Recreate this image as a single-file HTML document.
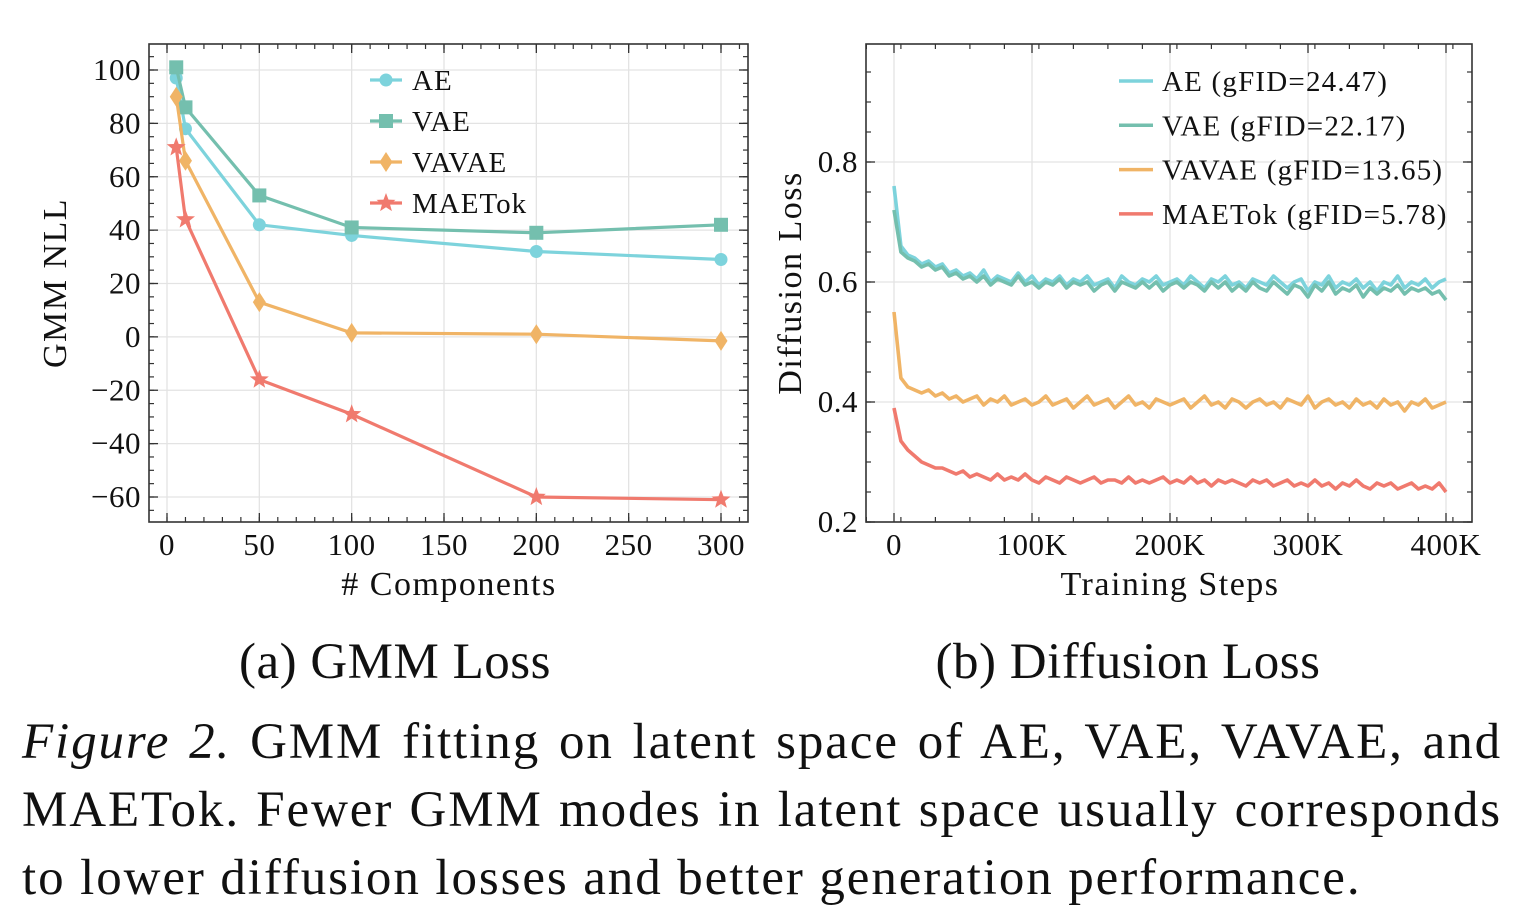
<!DOCTYPE html>
<html><head><meta charset="utf-8">
<style>
body{margin:0;background:#fff;width:1518px;height:918px;overflow:hidden;font-family:"Liberation Serif",serif;}
#fig{position:absolute;left:0;top:0;}
.cap{position:absolute;left:22px;width:1480px;font-size:51px;line-height:68px;color:#111;letter-spacing:1.9px;}
.cap div{text-align:justify;text-align-last:justify;white-space:nowrap;}
.cap div.last{text-align-last:left;}
</style></head>
<body>
<svg id="fig" width="1518" height="710"></svg>
<div class="cap" style="top:708px">
<div><i>Figure 2.</i> GMM fitting on latent space of AE, VAE, VAVAE, and</div>
<div>MAETok. Fewer GMM modes in latent space usually corresponds</div>
<div class="last">to lower diffusion losses and better generation performance.</div>
</div>
<script>
// ---- chart (a) data ----
const compCats = [5, 10, 50, 100, 200, 300];
const gmmAE = [97, 78, 42, 38, 32, 29];
const gmmVAE = [101, 86, 53, 41, 39, 42];
const gmmVAVAE = [90, 66, 13, 1.5, 1, -1.5];
const gmmMAETok = [71, 44, -16, -29, -60, -61];
const gmmXTicks = [0, 50, 100, 150, 200, 250, 300];
const gmmYTicks = [100, 80, 60, 40, 20, 0, -20, -40, -60];
// ---- chart (b) data (step in K, every 5K) ----
const diffSteps = [0,5,10,15,20,25,30,35,40,45,50,55,60,65,70,75,80,85,90,95,100,105,110,115,120,125,130,135,140,145,150,155,160,165,170,175,180,185,190,195,200,205,210,215,220,225,230,235,240,245,250,255,260,265,270,275,280,285,290,295,300,305,310,315,320,325,330,335,340,345,350,355,360,365,370,375,380,385,390,395,400];
const diffAE = [0.76,0.66,0.645,0.64,0.63,0.635,0.625,0.63,0.615,0.62,0.61,0.615,0.605,0.62,0.60,0.61,0.605,0.60,0.615,0.60,0.61,0.595,0.605,0.60,0.61,0.595,0.605,0.60,0.61,0.595,0.60,0.605,0.59,0.61,0.60,0.595,0.605,0.60,0.61,0.595,0.60,0.605,0.595,0.61,0.60,0.59,0.605,0.60,0.61,0.595,0.60,0.59,0.605,0.60,0.595,0.61,0.60,0.59,0.60,0.605,0.585,0.60,0.595,0.61,0.59,0.60,0.595,0.605,0.59,0.60,0.585,0.60,0.595,0.61,0.59,0.60,0.595,0.605,0.59,0.60,0.605];
const diffVAE = [0.72,0.65,0.64,0.635,0.625,0.63,0.62,0.625,0.61,0.615,0.605,0.61,0.60,0.61,0.595,0.605,0.60,0.595,0.61,0.595,0.60,0.59,0.60,0.595,0.605,0.59,0.60,0.595,0.60,0.585,0.595,0.60,0.585,0.60,0.595,0.59,0.60,0.59,0.60,0.585,0.595,0.60,0.59,0.60,0.595,0.585,0.60,0.59,0.60,0.585,0.595,0.585,0.60,0.59,0.585,0.60,0.59,0.58,0.595,0.59,0.575,0.595,0.585,0.60,0.58,0.59,0.585,0.595,0.575,0.59,0.58,0.59,0.585,0.595,0.58,0.59,0.585,0.59,0.58,0.585,0.57];
const diffVAVAE = [0.55,0.44,0.425,0.42,0.415,0.42,0.41,0.415,0.405,0.41,0.40,0.405,0.41,0.395,0.405,0.40,0.41,0.395,0.40,0.405,0.395,0.40,0.41,0.395,0.40,0.405,0.39,0.40,0.41,0.395,0.40,0.405,0.39,0.40,0.41,0.395,0.40,0.39,0.405,0.40,0.395,0.40,0.405,0.39,0.40,0.41,0.395,0.40,0.39,0.405,0.40,0.39,0.40,0.405,0.395,0.40,0.39,0.405,0.40,0.395,0.41,0.39,0.40,0.405,0.395,0.40,0.39,0.405,0.395,0.40,0.39,0.405,0.395,0.40,0.385,0.40,0.395,0.405,0.39,0.395,0.40];
const diffMAETok = [0.39,0.335,0.32,0.31,0.30,0.295,0.29,0.29,0.285,0.28,0.285,0.275,0.28,0.275,0.27,0.28,0.27,0.275,0.27,0.28,0.27,0.265,0.275,0.27,0.265,0.275,0.27,0.265,0.27,0.275,0.265,0.27,0.27,0.265,0.275,0.265,0.27,0.265,0.27,0.275,0.265,0.27,0.265,0.275,0.265,0.27,0.26,0.27,0.265,0.27,0.265,0.26,0.27,0.265,0.27,0.26,0.265,0.27,0.26,0.265,0.26,0.27,0.26,0.265,0.255,0.265,0.26,0.27,0.26,0.255,0.265,0.26,0.265,0.255,0.26,0.265,0.255,0.26,0.255,0.265,0.25];
const diffXTicks = [0, 100, 200, 300, 400];
const diffXLabels = ["0", "100K", "200K", "300K", "400K"];
const diffYTicks = [0.2, 0.4, 0.6, 0.8];

const C = {ae:'#7dd3dc', vae:'#74bfae', vavae:'#f0b466', mae:'#f07a6e'};
const svg = document.getElementById('fig');
const NS = 'http://www.w3.org/2000/svg';
function mk(tag, attrs, parent){const e=document.createElementNS(NS,tag);for(const k in attrs)e.setAttribute(k,attrs[k]);(parent||svg).appendChild(e);return e;}

function axes(g, L, T, R, B, xs, ys, xMinor, yMinor, xTicks, xLabels, yTicks, yLabels){
  xTicks.forEach(v=>{mk('line',{x1:xs(v),x2:xs(v),y1:T,y2:B,stroke:'#e3e3e3','stroke-width':1.3},g);});
  yTicks.forEach(v=>{mk('line',{x1:L,x2:R,y1:ys(v),y2:ys(v),stroke:'#e3e3e3','stroke-width':1.3},g);});
  xMinor.forEach(v=>{const x=xs(v);if(x<L||x>R)return;mk('line',{x1:x,x2:x,y1:B,y2:B-5,stroke:'#333','stroke-width':1.2},g);mk('line',{x1:x,x2:x,y1:T,y2:T+5,stroke:'#333','stroke-width':1.2},g);});
  yMinor.forEach(v=>{const y=ys(v);if(y<T||y>B)return;mk('line',{x1:L,x2:L+5,y1:y,y2:y,stroke:'#333','stroke-width':1.2},g);mk('line',{x1:R,x2:R-5,y1:y,y2:y,stroke:'#333','stroke-width':1.2},g);});
  xTicks.forEach((v,i)=>{const x=xs(v);mk('line',{x1:x,x2:x,y1:B,y2:B-9,stroke:'#333','stroke-width':1.3},g);mk('line',{x1:x,x2:x,y1:T,y2:T+9,stroke:'#333','stroke-width':1.3},g);
    const t=mk('text',{x:x,y:B+33,'text-anchor':'middle','font-size':31,'letter-spacing':0.5,fill:'#111'},g);t.textContent=xLabels[i];
    
    });
  yTicks.forEach((v,i)=>{const y=ys(v);mk('line',{x1:L,x2:L+9,y1:y,y2:y,stroke:'#333','stroke-width':1.3},g);mk('line',{x1:R,x2:R-9,y1:y,y2:y,stroke:'#333','stroke-width':1.3},g);
    const t=mk('text',{x:L-8,y:y+10,'text-anchor':'end','font-size':31,'letter-spacing':0.5,fill:'#111'},g);t.textContent=yLabels[i];
    
    });
}
function marker(g, type, x, y, col){
  if(type==='o') return mk('circle',{cx:x,cy:y,r:6.5,fill:col},g);
  if(type==='s') return mk('rect',{x:x-7,y:y-7,width:14,height:14,fill:col},g);
  if(type==='d') return mk('polygon',{points:`${x},${y-10} ${x+6.5},${y} ${x},${y+10} ${x-6.5},${y}`,fill:col},g);
  let p=[];for(let k=0;k<10;k++){const r=k%2?4.2:10;const a=-Math.PI/2+k*Math.PI/5;p.push((x+r*Math.cos(a)).toFixed(1)+','+(y+r*Math.sin(a)).toFixed(1));}
  return mk('polygon',{points:p.join(' '),fill:col},g);
}

// ---- chart (a) ----
(function(){
  const L=149,T=44,R=748,B=522;
  const xs=v=>167+(v)*554/300, ys=v=>70+(100-v)*427/160;
  const g=mk('g',{});
  
  
  const xm=[];for(let v=-10;v<=310;v+=10)xm.push(v);
  const ym=[];for(let v=-65;v<=105;v+=5)ym.push(v);
  axes(g,L,T,R,B,xs,ys,xm,ym,gmmXTicks,gmmXTicks.map(String),gmmYTicks,gmmYTicks.map(v=>v<0?'\u2212'+(-v):String(v)));
  const series=[[gmmAE,C.ae,'o','ae'],[gmmVAE,C.vae,'s','vae'],[gmmVAVAE,C.vavae,'d','vavae'],[gmmMAETok,C.mae,'*','maetok']];
  series.forEach(([vals,col,m,nm])=>{
    const pts=compCats.map((c,i)=>xs(c)+','+ys(vals[i])).join(' ');
    const pl=mk('polyline',{points:pts,fill:'none',stroke:col,'stroke-width':3.2},g);
    
    
    compCats.forEach((c,i)=>{const mm=marker(g,m,xs(c),ys(vals[i]),col);
      
      });
  });
  mk('rect',{x:L,y:T,width:R-L,height:B-T,fill:'none',stroke:'#333','stroke-width':1.6},g);
  const names=['AE','VAE','VAVAE','MAETok'];
  series.forEach(([vals,col,m,nm],i)=>{const y=80+i*41;
    const lg=mk('g',{},g);
    
    
    mk('line',{x1:370,x2:402,y1:y,y2:y,stroke:col,'stroke-width':3.2},lg);marker(lg,m,386,y,col);
    const t=mk('text',{x:412,y:y+10,'font-size':29,'letter-spacing':1,fill:'#111'},lg);t.textContent=names[i];});
  const yl=mk('text',{x:0,y:0,transform:'translate(66,283) rotate(-90)','text-anchor':'middle','font-size':34,'letter-spacing':1.5,fill:'#111'},g);yl.textContent='GMM NLL';
  
  
  const xl=mk('text',{x:449,y:595,'text-anchor':'middle','font-size':34,'letter-spacing':1.5,fill:'#111'},g);xl.textContent='# Components';
  
  
  const st=mk('text',{x:395,y:678,'text-anchor':'middle','font-size':51,'letter-spacing':0.5,fill:'#111'});st.textContent='(a) GMM Loss';
  
  
})();

// ---- chart (b) ----
(function(){
  const L=866,T=44,R=1472,B=522;
  const xs=v=>894+v*552/400, ys=v=>522-(v-0.2)*600;
  const g=mk('g',{});
  
  
  const xm=[];for(let v=-20;v<=420;v+=25)xm.push(v);
  const ym=[];for(let v=0.2;v<=1.0;v+=0.05)ym.push(v);
  axes(g,L,T,R,B,xs,ys,xm,ym,diffXTicks,diffXLabels,diffYTicks,diffYTicks.map(v=>v.toFixed(1)));
  const series=[[diffAE,C.ae,'ae'],[diffVAE,C.vae,'vae'],[diffVAVAE,C.vavae,'vavae'],[diffMAETok,C.mae,'maetok']];
  series.forEach(([vals,col,nm])=>{
    const n=Math.min(vals.length,diffSteps.length);
    const pts=[];for(let i=0;i<n;i++)pts.push(xs(diffSteps[i]).toFixed(1)+','+ys(vals[i]).toFixed(1));
    const pl=mk('polyline',{points:pts.join(' '),fill:'none',stroke:col,'stroke-width':3.6,'stroke-linejoin':'round'},g);
    
    
  });
  mk('rect',{x:L,y:T,width:R-L,height:B-T,fill:'none',stroke:'#333','stroke-width':1.6},g);
  const names=['AE (gFID=24.47)','VAE (gFID=22.17)','VAVAE (gFID=13.65)','MAETok (gFID=5.78)'];
  series.forEach(([vals,col,nm],i)=>{const y=81+i*44.3;
    const lg=mk('g',{},g);
    
    
    mk('line',{x1:1119,x2:1153,y1:y,y2:y,stroke:col,'stroke-width':3.5},lg);
    const t=mk('text',{x:1162,y:y+10,'font-size':29,'letter-spacing':1.2,fill:'#111'},lg);t.textContent=names[i];});
  const yl=mk('text',{x:0,y:0,transform:'translate(801,283) rotate(-90)','text-anchor':'middle','font-size':34,'letter-spacing':1.5,fill:'#111'},g);yl.textContent='Diffusion Loss';
  
  
  const xl=mk('text',{x:1170,y:595,'text-anchor':'middle','font-size':34,'letter-spacing':1.5,fill:'#111'},g);xl.textContent='Training Steps';
  
  
  const st=mk('text',{x:1128,y:678,'text-anchor':'middle','font-size':51,'letter-spacing':0.5,fill:'#111'});st.textContent='(b) Diffusion Loss';
  
  
})();
</script>
</body></html>
